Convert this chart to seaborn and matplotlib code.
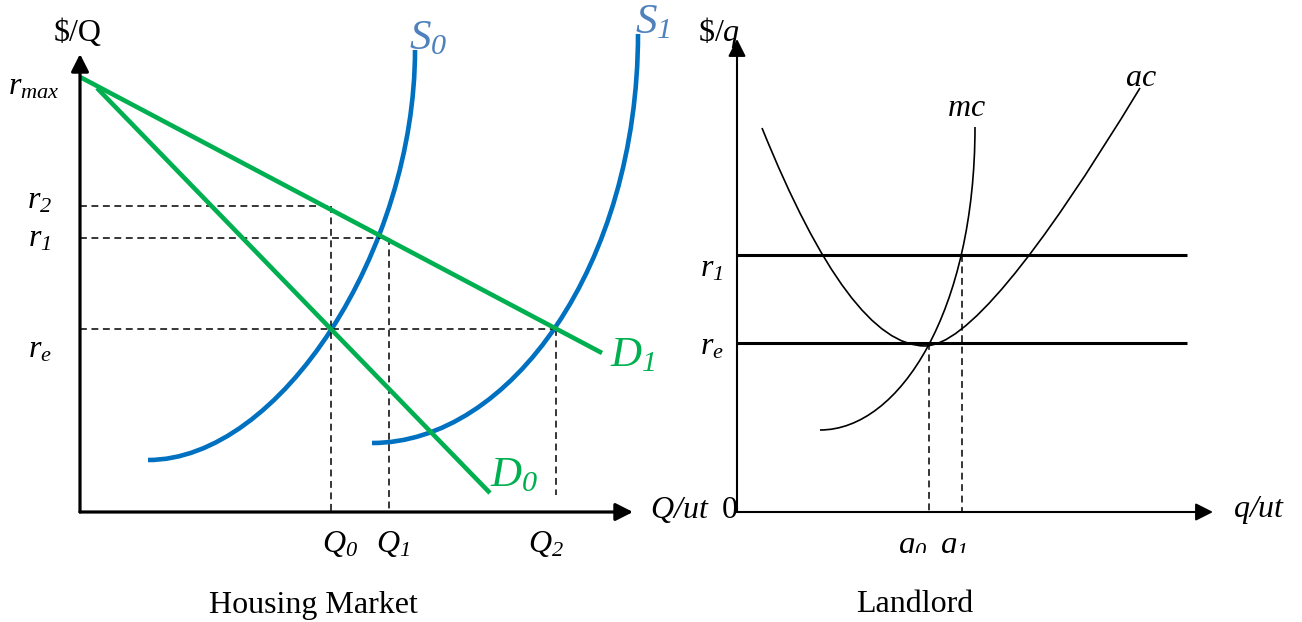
import matplotlib
matplotlib.use("Agg")
import matplotlib.pyplot as plt
from matplotlib.path import Path
from matplotlib.patches import PathPatch
from matplotlib.transforms import Bbox, TransformedBbox
import seaborn as sns

sns.set_theme(style="white")
plt.rcParams.update({
    "font.family": ["Liberation Serif", "DejaVu Serif"],
    "text.color": "black",
    "mathtext.fontset": "custom",
    "mathtext.rm": "Liberation Serif:italic",
    "mathtext.it": "Liberation Serif:italic",
    "mathtext.sf": "Liberation Serif",
    "mathtext.bf": "Liberation Serif:bold",
})

# ---------------- Housing market ----------------
rent_names = [r"$r_{max}$", r"$r_{2}$", r"$r_{1}$", r"$r_{e}$"]
rent_values = [87.0, 61.2, 54.8, 36.6]
qty_names = [r"$Q_{0}$", r"$Q_{1}$", r"$Q_{2}$"]
qty_values = [50.2, 61.8, 95.2]

# demand lines (end points)
d0_q = [3.4, 82.0]
d0_r = [84.8, 3.8]
d1_q = [0.0, 104.4]
d1_r = [87.0, 31.8]

# supply curves (cubic Bezier control points)
s0_q = [13.6, 40.0, 67.0, 67.0]
s0_r = [10.4, 10.4, 52.4, 92.4]
s1_q = [58.4, 86.0, 111.6, 111.6]
s1_r = [13.8, 13.8, 49.4, 95.6]

# ---------------- Landlord ----------------
ll_rent_names = [r"$r_{1}$", r"$r_{e}$"]
ll_rent_values = [51.4, 33.8]
ll_qty_names = [r"$q_{0}$", r"$q_{1}$"]
ll_qty_values = [38.4, 45.0]
ll_rent_line_end = 90.0

# marginal cost (cubic Bezier) and average cost (two quadratic pieces)
mc_q = [16.6, 32.6, 47.6, 47.6]
mc_c = [16.4, 16.4, 40.4, 77.0]
ac_q = [5.0, 22.6, 37.6, 49.4, 80.6]
ac_c = [76.8, 33.2, 33.2, 33.2, 84.8]

GREEN = "#00B050"
BLUE = "#0070C0"
SLABEL = "#4F81BD"
DASH = (0, (4.5, 3))

fig = plt.figure(figsize=(13.02, 6.22), dpi=100)
ax1 = fig.add_axes([0, 0, 0.5, 1])
ax2 = fig.add_axes([0.5, 0, 0.5, 1])
ax1.set_xlim(-16, 114.2)
ax1.set_ylim(-22, 102.4)
ax2.set_xlim(-17.2, 113.0)
ax2.set_ylim(-22, 102.4)
for ax in (ax1, ax2):
    ax.set_axis_off()


def seg(ax, xs, ys, **kw):
    sns.lineplot(x=xs, y=ys, ax=ax, estimator=None, sort=False, **kw)


def bezier(ax, xs, ys, codes, **kw):
    path = Path(list(zip(xs, ys)), codes)
    ax.add_patch(PathPatch(path, facecolor="none", capstyle="butt", **kw))


def axis_arrow(ax, start, tip, lw):
    ax.annotate("", xy=tip, xytext=start,
                arrowprops=dict(arrowstyle="-|>,head_length=0.75,head_width=0.38",
                                mutation_scale=14, lw=lw, color="black",
                                shrinkA=0, shrinkB=0))


TXT = 23
BIG = 31

# ---- left panel ----
# dashed guides
for ri, qi in [(1, 0), (2, 1), (3, 2)]:
    seg(ax1, [0, qty_values[qi]], [rent_values[ri], rent_values[ri]],
        color="black", lw=1.1, linestyle=DASH)
for ri, qi, bottom in [(1, 0, 0), (2, 1, 0), (3, 2, 3.4)]:
    seg(ax1, [qty_values[qi], qty_values[qi]], [rent_values[ri], bottom],
        color="black", lw=1.1, linestyle=DASH)

c4 = [Path.MOVETO, Path.CURVE4, Path.CURVE4, Path.CURVE4]
bezier(ax1, s0_q, s0_r, c4, edgecolor=BLUE, lw=3.3)
bezier(ax1, s1_q, s1_r, c4, edgecolor=BLUE, lw=3.3)
seg(ax1, d0_q, d0_r, color=GREEN, lw=3.3, solid_capstyle="butt")
seg(ax1, d1_q, d1_r, color=GREEN, lw=3.3, solid_capstyle="butt")

axis_arrow(ax1, (0, 0), (0, 91.6), 2.3)
axis_arrow(ax1, (0, 0), (110.6, 0), 2.3)

ax1.text(-0.4, 95.8, "$/Q", fontsize=TXT, ha="center", va="center")
rent_label_y = [85.0, 62.2, 54.6, 32.4]
rent_label_x = [-9.2, -8.0, -8.0, -8.0]
for name, x, y in zip(rent_names, rent_label_x, rent_label_y):
    ax1.text(x, y, name, fontsize=TXT, ha="center", va="center")
qty_label_x = [52.0, 62.6, 93.2]
for name, x in zip(qty_names, qty_label_x):
    ax1.text(x, -6.4, name, fontsize=TXT, ha="center", va="center")
ax1.text(120.0, 0.4, r"$Q/ut$", fontsize=TXT, ha="center", va="center")
ax1.text(69.6, 94.6, r"$S_{0}$", fontsize=BIG, color=SLABEL,
         ha="center", va="center")
ax1.text(114.6, 97.8, r"$S_{1}$", fontsize=BIG, color=SLABEL,
         ha="center", va="center")
ax1.text(86.8, 7.2, r"$D_{0}$", fontsize=BIG, color=GREEN,
         ha="center", va="center")
ax1.text(110.6, 31.2, r"$D_{1}$", fontsize=BIG, color=GREEN,
         ha="center", va="center")
ax1.text(46.6, -18.6, "Housing Market", fontsize=TXT, ha="center", va="center")

# ---- right panel ----
for r in ll_rent_values:
    seg(ax2, [0, ll_rent_line_end], [r, r], color="black", lw=2.2,
        solid_capstyle="butt")
for q, r in zip(ll_qty_values, ll_rent_values[::-1]):
    seg(ax2, [q, q], [r, 0], color="black", lw=1.1, linestyle=DASH)

bezier(ax2, mc_q, mc_c, c4, edgecolor="black", lw=1.2)
c3 = [Path.MOVETO, Path.CURVE3, Path.CURVE3, Path.CURVE3, Path.CURVE3]
bezier(ax2, ac_q, ac_c, c3, edgecolor="black", lw=1.2)

axis_arrow(ax2, (0, 0), (0, 94.6), 1.5)
axis_arrow(ax2, (0, 0), (95.2, 0), 1.5)

ax2.text(-3.6, 96.0, r"$\mathsf{\$/}q$", fontsize=TXT, ha="center", va="center")
ax2.text(-1.4, 0.4, "0", fontsize=TXT, ha="center", va="center")
ax2.text(104.4, 0.4, r"$q/ut$", fontsize=TXT, ha="center", va="center")
for name, y in zip(ll_rent_names, [48.6, 33.0]):
    ax2.text(-5.0, y, name, fontsize=TXT, ha="center", va="center")
ax2.text(45.8, 80.8, r"$mc$", fontsize=TXT, ha="center", va="center")
ax2.text(80.8, 86.6, r"$ac$", fontsize=TXT, ha="center", va="center")
clip = TransformedBbox(Bbox([[-20, -8.2], [120, 110]]), ax2.transData)
for name, x in zip(ll_qty_names, [35.0, 43.2]):
    t = ax2.text(x, -7.2, name, fontsize=TXT, ha="center", va="center")
    t.set_clip_box(clip)
    t.set_clip_on(True)
ax2.text(35.6, -18.6, "Landlord", fontsize=TXT, ha="center", va="center")

fig.savefig("out.png", dpi=100)
